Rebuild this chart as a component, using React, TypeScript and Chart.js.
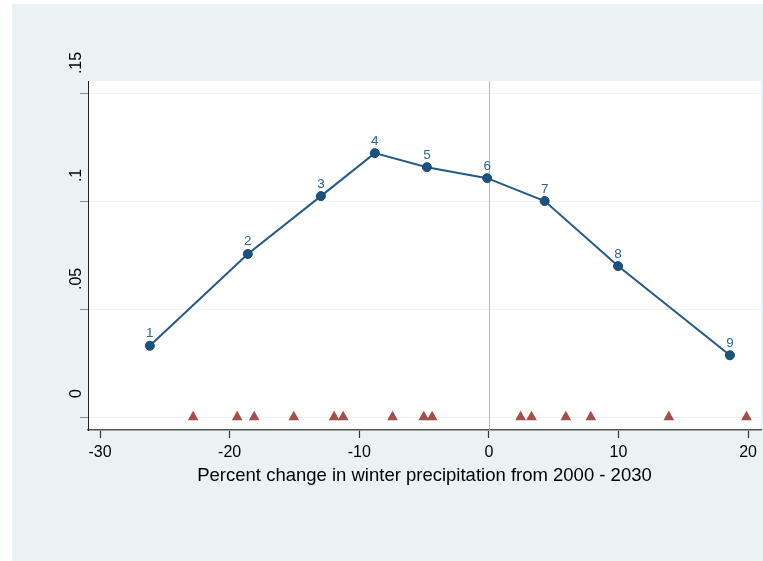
import React, { useEffect, useRef } from "react";
import { Chart, registerables } from "chart.js";

Chart.register(...registerables);

const curveX = [-26.16, -18.6, -12.96, -8.8, -4.78, -0.13, 4.31, 9.97, 18.6];
const curveY = [0.033, 0.0755, 0.1023, 0.1222, 0.1157, 0.1106, 0.1, 0.0699, 0.0286];
const pointLabels = ["1", "2", "3", "4", "5", "6", "7", "8", "9"];
const rugX = [-22.82, -19.42, -18.11, -15.05, -11.94, -11.24, -7.43, -5.02, -4.38, 2.45, 3.29, 5.94, 7.87, 13.89, 19.88];
const xTicks = [-30, -20, -10, 0, 10, 20];
const yTicks = [0, 0.05, 0.1, 0.15];
const yTickLabels = ["0", ".05", ".1", ".15"];
const xTitle = "Percent change in winter precipitation from 2000 - 2030";

const FONT = "'Liberation Sans', Arial, Helvetica, sans-serif";

const bgPlugin = {
  id: "bgPlugin",
  beforeDraw(chart: any) {
    const { ctx, chartArea } = chart;
    ctx.save();
    ctx.fillStyle = "#ffffff";
    ctx.fillRect(0, 0, chart.width, chart.height);
    ctx.fillStyle = "#eaf2f3";
    ctx.fillRect(12, 4, chart.width - 12, chart.height - 4);
    ctx.fillStyle = "#ffffff";
    ctx.fillRect(chartArea.left, chartArea.top, chartArea.right - chartArea.left, chartArea.bottom - chartArea.top);
    ctx.restore();
  },
  beforeDatasetsDraw(chart: any) {
    const { ctx, chartArea, scales } = chart;
    const x0 = scales.x.getPixelForValue(0);
    ctx.save();
    ctx.strokeStyle = "#b8b8b8";
    ctx.lineWidth = 1;
    ctx.beginPath();
    ctx.moveTo(Math.round(x0) + 0.5, chartArea.top);
    ctx.lineTo(Math.round(x0) + 0.5, chartArea.bottom);
    ctx.stroke();
    ctx.restore();
  },
  afterDatasetsDraw(chart: any) {
    const { ctx } = chart;
    const meta = chart.getDatasetMeta(0);
    ctx.save();
    ctx.fillStyle = "#2e6392";
    ctx.font = "13.5px " + FONT;
    ctx.textAlign = "center";
    ctx.textBaseline = "alphabetic";
    meta.data.forEach((pt: any, i: number) => {
      ctx.fillText(pointLabels[i], pt.x, pt.y - 8.5);
    });
    ctx.restore();
  },
  afterDraw(chart: any) {
    const { ctx, scales } = chart;
    ctx.save();
    ctx.fillStyle = "#000000";
    ctx.font = "16px " + FONT;
    ctx.textAlign = "left";
    ctx.textBaseline = "alphabetic";
    yTicks.forEach((v, i) => {
      const py = scales.y.getPixelForValue(v);
      ctx.save();
      ctx.translate(80.5, py - 19);
      ctx.rotate(-Math.PI / 2);
      ctx.fillText(yTickLabels[i], 0, 0);
      ctx.restore();
    });
    ctx.restore();
  },
};

export default function App() {
  const ref = useRef<HTMLCanvasElement | null>(null);
  useEffect(() => {
    if (!ref.current) return;
    const chart = new Chart(ref.current, {
      type: "scatter",
      data: {
        datasets: [
          {
            data: curveX.map((x, i) => ({ x, y: curveY[i] })),
            showLine: true,
            borderColor: "#235a88",
            borderWidth: 2,
            backgroundColor: "#1c5280",
            pointBorderColor: "#174a74",
            pointBorderWidth: 1,
            pointRadius: 4.5,
            pointHoverRadius: 4.5,
          },
          {
            data: rugX.map((x) => ({ x, y: 0 })),
            showLine: false,
            pointStyle: "triangle",
            pointRadius: 6.2,
            pointHoverRadius: 6.2,
            backgroundColor: "#a84b4c",
            borderColor: "#a84b4c",
            borderWidth: 0,
          },
        ],
      },
      plugins: [bgPlugin],
      options: {
        responsive: false,
        animation: false,
        events: [],
        layout: { autoPadding: false, padding: { left: 0, top: 81, right: 2, bottom: 0 } },
        plugins: { legend: { display: false }, tooltip: { enabled: false }, title: { display: false } },
        scales: {
          x: {
            type: "linear",
            position: "bottom",
            min: -30.93,
            max: 21.0,
            afterBuildTicks: (scale: any) => {
              scale.ticks = xTicks.map((v) => ({ value: v }));
            },
            afterFit: (scale: any) => {
              scale.height = 131;
              scale.paddingLeft = 0;
              scale.paddingRight = 0;
            },
            ticks: {
              color: "#000000",
              font: { family: FONT, size: 16 },
              padding: 5,
              maxRotation: 0,
              callback: (v: any) => String(v),
            },
            grid: {
              drawOnChartArea: false,
              drawTicks: true,
              tickLength: 8,
              tickColor: "#333333",
              tickWidth: 1.2,
            },
            border: { color: "#555555", width: 1.6 },
            title: {
              display: true,
              text: xTitle,
              color: "#000000",
              font: { family: FONT, size: 18.5 },
              padding: { top: 0, bottom: 74 },
            },
          },
          y: {
            type: "linear",
            min: -0.006,
            max: 0.1556,
            afterBuildTicks: (scale: any) => {
              scale.ticks = yTicks.map((v) => ({ value: v }));
            },
            afterFit: (scale: any) => {
              scale.width = 88;
              scale.paddingTop = 0;
              scale.paddingBottom = 0;
            },
            ticks: { display: false },
            grid: {
              color: "#eef3f3",
              lineWidth: 1,
              drawTicks: true,
              tickLength: 8,
              tickColor: "#8a8a8a",
            },
            border: { color: "#222222", width: 1 },
          },
        },
      },
    } as any);
    return () => chart.destroy();
  }, []);
  return (
    <div style={{ position: "fixed", left: 0, top: 0, width: 763, height: 561 }}>
      <canvas ref={ref} width={763} height={561} style={{ width: 763, height: 561, display: "block" }} />
    </div>
  );
}
